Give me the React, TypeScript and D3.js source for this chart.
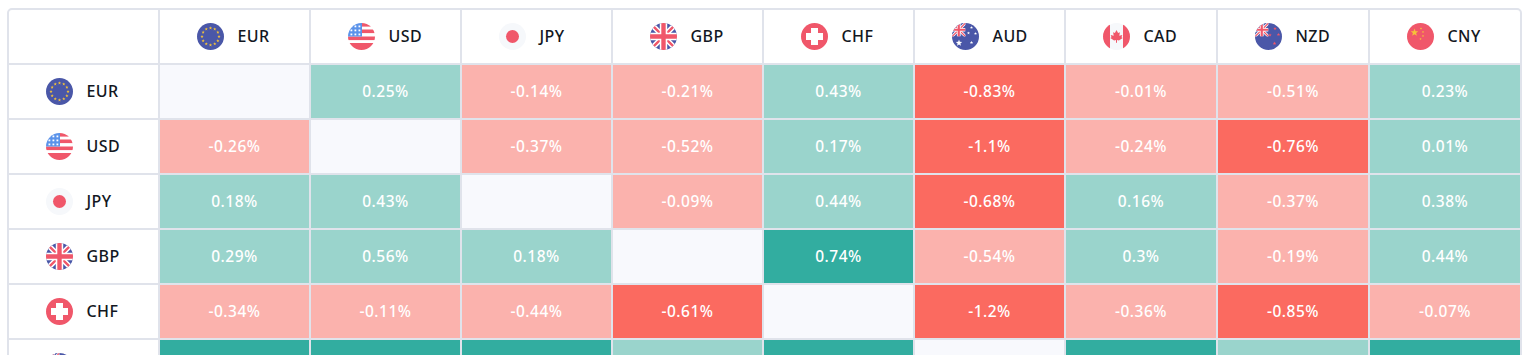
import React from "react";
import * as d3 from "d3";

const columnCurrencies = ["EUR", "USD", "JPY", "GBP", "CHF", "AUD", "CAD", "NZD", "CNY"];
const rowCurrencies = ["EUR", "USD", "JPY", "GBP", "CHF", "AUD"];

const eurRow = ["", "0.25%", "-0.14%", "-0.21%", "0.43%", "-0.83%", "-0.01%", "-0.51%", "0.23%"];
const usdRow = ["-0.26%", "", "-0.37%", "-0.52%", "0.17%", "-1.1%", "-0.24%", "-0.76%", "0.01%"];
const jpyRow = ["0.18%", "0.43%", "", "-0.09%", "0.44%", "-0.68%", "0.16%", "-0.37%", "0.38%"];
const gbpRow = ["0.29%", "0.56%", "0.18%", "", "0.74%", "-0.54%", "0.3%", "-0.19%", "0.44%"];
const chfRow = ["-0.34%", "-0.11%", "-0.44%", "-0.61%", "", "-1.2%", "-0.36%", "-0.85%", "-0.07%"];
const audRow = ["0.82%", "1.09%", "0.67%", "0.53%", "1.18%", "", "0.81%", "0.31%", "1.05%"];
const tableRows = [eurRow, usdRow, jpyRow, gbpRow, chfRow, audRow];

const W = 1530, H = 355;
const columnWidths = [151, 151, 151, 151, 151, 151, 152, 152, 152];
const firstLine = 159;
const rowPitch = 55;
const headerLine = 64;
const topLine = 9;
const leftLine = 8;
const rightLine = 1521;

const GRID = "#e0e3eb";
const TEXT = "#131722";
const BLANK = "#f8f9fd";
const BLUE = "#4a57a8";
const RED = "#f0576a";
const YELLOW = "#f6c338";
const PALE = "#f6f8fb";
const FONT = "'Noto Sans', sans-serif";

const colEdges: number[] = Array.from(d3.cumsum([firstLine, ...columnWidths]));
const rowY = d3.scaleLinear().domain([0, 1]).range([headerLine, headerLine + rowPitch]);
const cellColor = d3.scaleThreshold<number, string>()
  .domain([-0.6, 0, 0.6])
  .range(["#fb6a60", "#fbb2ad", "#9ad4cc", "#32ada0"]);

const R = 13.5;

function Star({ x, y, r, fill }: { x: number; y: number; r: number; fill: string }) {
  const pts = d3.range(10).map((i) => {
    const a = (i * Math.PI) / 5 - Math.PI / 2;
    const rr = i % 2 ? r * 0.42 : r;
    return `${x + rr * Math.cos(a)},${y + rr * Math.sin(a)}`;
  });
  return <polygon points={pts.join(" ")} fill={fill} />;
}

function Union({ s, x, y, w, h }: { s: string; x: number; y: number; w: number; h: number }) {
  const id = `u${s}`;
  const x2 = x + w, y2 = y + h, cx = x + w / 2, cy = y + h / 2;
  const sw = Math.max(w, h) / 8;
  return (
    <g>
      <clipPath id={id}><rect x={x} y={y} width={w} height={h} /></clipPath>
      <g clipPath={`url(#${id})`}>
        <rect x={x} y={y} width={w} height={h} fill={BLUE} />
        <path d={`M${x},${y}L${x2},${y2}M${x2},${y}L${x},${y2}`} stroke="#fff" strokeWidth={sw * 1.6} />
        <path d={`M${x},${y}L${x2},${y2}M${x2},${y}L${x},${y2}`} stroke={RED} strokeWidth={sw * 0.7} />
        <path d={`M${cx},${y}V${y2}M${x},${cy}H${x2}`} stroke="#fff" strokeWidth={sw * 2.2} />
        <path d={`M${cx},${y}V${y2}M${x},${cy}H${x2}`} stroke={RED} strokeWidth={sw * 1.3} />
      </g>
    </g>
  );
}

function FlagArt({ code, uid }: { code: string; uid: string }) {
  switch (code) {
    case "EUR":
      return (
        <g>
          <rect x={-R} y={-R} width={27} height={27} fill={BLUE} />
          {d3.range(12).map((i) => {
            const a = (i * Math.PI) / 6;
            return <Star key={i} x={8.5 * Math.sin(a)} y={-8.5 * Math.cos(a)} r={1.7} fill={YELLOW} />;
          })}
        </g>
      );
    case "USD":
      return (
        <g>
          <rect x={-R} y={-R} width={27} height={27} fill="#fff" />
          {[-13.5, -7, 0, 6.5].map((y, i) => (
            <rect key={i} x={i < 2 ? 0 : -R} y={y} width={27} height={i === 3 ? 8 : 3.6} fill={RED} />
          ))}
          <rect x={-R} y={-R} width={14} height={13.5} fill="#5b93ea" />
          {d3.range(3).map((r) =>
            d3.range(3).map((c) => (
              <rect key={`${r}${c}`} x={-11 + c * 4} y={-11 + r * 4} width={1.8} height={1.8} fill="#fff" />
            ))
          )}
        </g>
      );
    case "JPY":
      return (
        <g>
          <rect x={-R} y={-R} width={27} height={27} fill={PALE} />
          <circle r={6.5} fill={RED} />
        </g>
      );
    case "GBP":
      return <Union s={uid} x={-R} y={-R} w={27} h={27} />;
    case "CHF":
      return (
        <g>
          <rect x={-R} y={-R} width={27} height={27} fill={RED} />
          <rect x={-3.5} y={-8.5} width={7} height={17} fill="#fff" />
          <rect x={-8.5} y={-3.5} width={17} height={7} fill="#fff" />
        </g>
      );
    case "AUD":
      return (
        <g>
          <rect x={-R} y={-R} width={27} height={27} fill={BLUE} />
          <Union s={uid} x={-R} y={-R} w={13.5} h={13.5} />
          <Star x={-6.5} y={6.5} r={3.4} fill="#fff" />
          <Star x={6} y={-9} r={1.6} fill="#fff" />
          <Star x={10} y={-3} r={1.6} fill="#fff" />
          <Star x={3} y={-3.5} r={1.6} fill="#fff" />
          <Star x={6} y={6} r={1.8} fill="#fff" />
        </g>
      );
    case "CAD":
      return (
        <g>
          <rect x={-R} y={-R} width={27} height={27} fill={PALE} />
          <rect x={-R} y={-R} width={7} height={27} fill={RED} />
          <rect x={6.5} y={-R} width={7} height={27} fill={RED} />
          <path d="M0,-6.5L1.6,-3.5L3.4,-4.2L2.8,-0.8L5.8,-1.6L5,0.8L6.2,1.6L2.4,4L0.5,3.6V6.2H-0.5V3.6L-2.4,4L-6.2,1.6L-5,0.8L-5.8,-1.6L-2.8,-0.8L-3.4,-4.2L-1.6,-3.5Z" fill={RED} />
        </g>
      );
    case "NZD":
      return (
        <g>
          <rect x={-R} y={-R} width={27} height={27} fill={BLUE} />
          <Union s={uid} x={-R} y={-R} w={13.5} h={13.5} />
          <Star x={6.5} y={-8} r={1.8} fill={RED} />
          <Star x={1.5} y={-1.5} r={1.8} fill={RED} />
          <Star x={10} y={-2} r={1.8} fill={RED} />
          <Star x={6} y={7} r={1.9} fill={RED} />
        </g>
      );
    default:
      return (
        <g>
          <rect x={-R} y={-R} width={27} height={27} fill={RED} />
          <Star x={-6} y={-4} r={4} fill={YELLOW} />
          <Star x={0.5} y={-8} r={1.2} fill={YELLOW} />
          <Star x={2.5} y={-4.5} r={1.2} fill={YELLOW} />
          <Star x={2.5} y={-0.5} r={1.2} fill={YELLOW} />
          <Star x={0} y={2.5} r={1.2} fill={YELLOW} />
        </g>
      );
  }
}

function Label({ code, x, y, uid }: { code: string; x: number; y: number; uid: string }) {
  const baseline = y + 5.5;
  return (
    <g>
      <clipPath id={`c${uid}`}><circle cx={0} cy={0} r={R} /></clipPath>
      <g transform={`translate(${x},${y})`}>
        <g clipPath={`url(#c${uid})`}><FlagArt code={code} uid={uid} /></g>
      </g>
      {baseline - 12 < H && (
        <text x={x + 27} y={baseline} fontFamily={FONT} fontSize={16} fontWeight={500} letterSpacing={0.4} fill={TEXT}>{code}</text>
      )}
    </g>
  );
}

export default function App() {
  return (
    <svg width={W} height={H} viewBox={`0 0 ${W} ${H}`} style={{ position: "fixed", left: 0, top: 0, display: "block", background: "#fff" }}>
      {tableRows.map((row, r) =>
        row.map((v, c) => {
          const x0 = colEdges[c], x1 = colEdges[c + 1];
          const y0 = rowY(r), y1 = rowY(r + 1);
          const num = parseFloat(v);
          const baseline = (y0 + y1) / 2 + 5.5;
          return (
            <g key={`${r}-${c}`}>
              <rect x={x0} y={y0} width={x1 - x0} height={y1 - y0} fill={v === "" ? BLANK : cellColor(num)} />
              {v !== "" && baseline - 12 < H && (
                <text x={(x0 + x1) / 2} y={baseline} textAnchor="middle" fontFamily={FONT} fontSize={15.5} fontWeight={500} letterSpacing={0.5} fill="#fff">{v}</text>
              )}
            </g>
          );
        })
      )}
      {d3.range(0, 7).map((k) => (
        <line key={k} x1={leftLine} x2={rightLine} y1={rowY(k)} y2={rowY(k)} stroke={GRID} strokeWidth={2} />
      ))}
      {colEdges.slice(0, -1).map((x, i) => (
        <line key={i} x1={x} x2={x} y1={topLine} y2={H + 60} stroke={GRID} strokeWidth={2} />
      ))}
      <rect x={leftLine} y={topLine} width={rightLine - leftLine} height={H + 60} rx={4} fill="none" stroke={GRID} strokeWidth={2} />
      {columnCurrencies.map((code, c) => (
        <Label key={code} code={code} uid={`h${c}`} x={colEdges[c] + 51.5} y={36.5} />
      ))}
      {rowCurrencies.map((code, r) => (
        <Label key={code} code={code} uid={`r${r}`} x={59.5} y={(rowY(r) + rowY(r + 1)) / 2} />
      ))}
    </svg>
  );
}
